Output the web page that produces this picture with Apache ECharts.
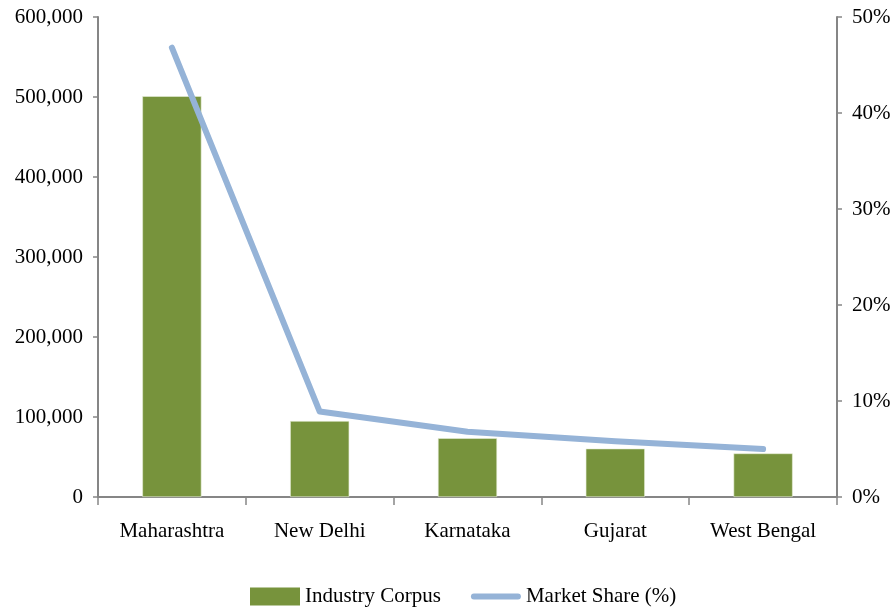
<!DOCTYPE html>
<html>
<head>
<meta charset="utf-8">
<script src="https://cdn.jsdelivr.net/npm/echarts@6/dist/echarts.min.js"></script>
<style>html,body{margin:0;padding:0;background:#fff}#c{width:894px;height:609px}</style>
</head>
<body>
<div id="c"></div>
<script>
const categories = ['Maharashtra', 'New Delhi', 'Karnataka', 'Gujarat', 'West Bengal'];
const industryCorpus = [501000, 95000, 73500, 60500, 54500];
const marketShare = [46.8, 8.9, 6.8, 5.8, 5.0];
const leftTicks = [0, 100000, 200000, 300000, 400000, 500000, 600000];
const rightTicks = [0, 10, 20, 30, 40, 50];

const FONT = '"Liberation Serif", "Times New Roman", serif';
const axisGray = '#868686';
const chart = echarts.init(document.getElementById('c'), null, {renderer: 'canvas'});
chart.setOption({
  animation: false,
  textStyle: {fontFamily: FONT, color: '#000'},
  grid: {left: 98, right: 57, top: 17, bottom: 112, containLabel: false},
  legend: {
    left: 245, top: 581, itemWidth: 50, itemHeight: 18, itemGap: 30,
    textStyle: {fontFamily: FONT, fontSize: 21, color: '#000'},
    data: [
      {name: 'Industry Corpus', icon: 'rect', itemStyle: {color: '#77933C', borderWidth: 0}},
      {name: 'Market Share (%)', icon: 'path://M3,0H47A3,3 0 0 1 47,6H3A3,3 0 0 1 3,0Z',
        itemStyle: {color: '#95B3D7', borderWidth: 0}}
    ]
  },
  xAxis: {
    type: 'category', data: categories,
    axisLine: {lineStyle: {color: axisGray, width: 2}},
    axisTick: {show: true, length: 8, lineStyle: {color: axisGray, width: 1.5}},
    axisLabel: {fontFamily: FONT, fontSize: 21, color: '#000', margin: 24}
  },
  yAxis: [
    {
      type: 'value', min: leftTicks[0], max: leftTicks[leftTicks.length - 1], interval: 100000,
      axisLine: {show: true, lineStyle: {color: axisGray, width: 2}},
      axisTick: {show: true, length: 5, lineStyle: {color: axisGray, width: 1.5}},
      splitLine: {show: false},
      axisLabel: {fontFamily: FONT, fontSize: 21, color: '#000', margin: 15,
        formatter: v => v.toLocaleString('en-US')}
    },
    {
      type: 'value', position: 'right', min: rightTicks[0], max: rightTicks[rightTicks.length - 1], interval: 10,
      axisLine: {show: true, lineStyle: {color: axisGray, width: 2}},
      axisTick: {show: true, length: 5, lineStyle: {color: axisGray, width: 1.5}},
      splitLine: {show: false},
      axisLabel: {fontFamily: FONT, fontSize: 21, color: '#000', margin: 15,
        formatter: v => v + '%'}
    }
  ],
  series: [
    {
      name: 'Industry Corpus', type: 'bar', data: industryCorpus, yAxisIndex: 0,
      barWidth: '40%',
      itemStyle: {color: '#77933C', borderColor: '#e8efd8', borderWidth: 0.6}
    },
    {
      name: 'Market Share (%)', type: 'line', data: marketShare, yAxisIndex: 1,
      symbol: 'none', smooth: false,
      lineStyle: {color: '#95B3D7', width: 6, cap: 'round', join: 'round'},
      itemStyle: {color: '#95B3D7'}
    }
  ]
});
</script>
</body>
</html>
